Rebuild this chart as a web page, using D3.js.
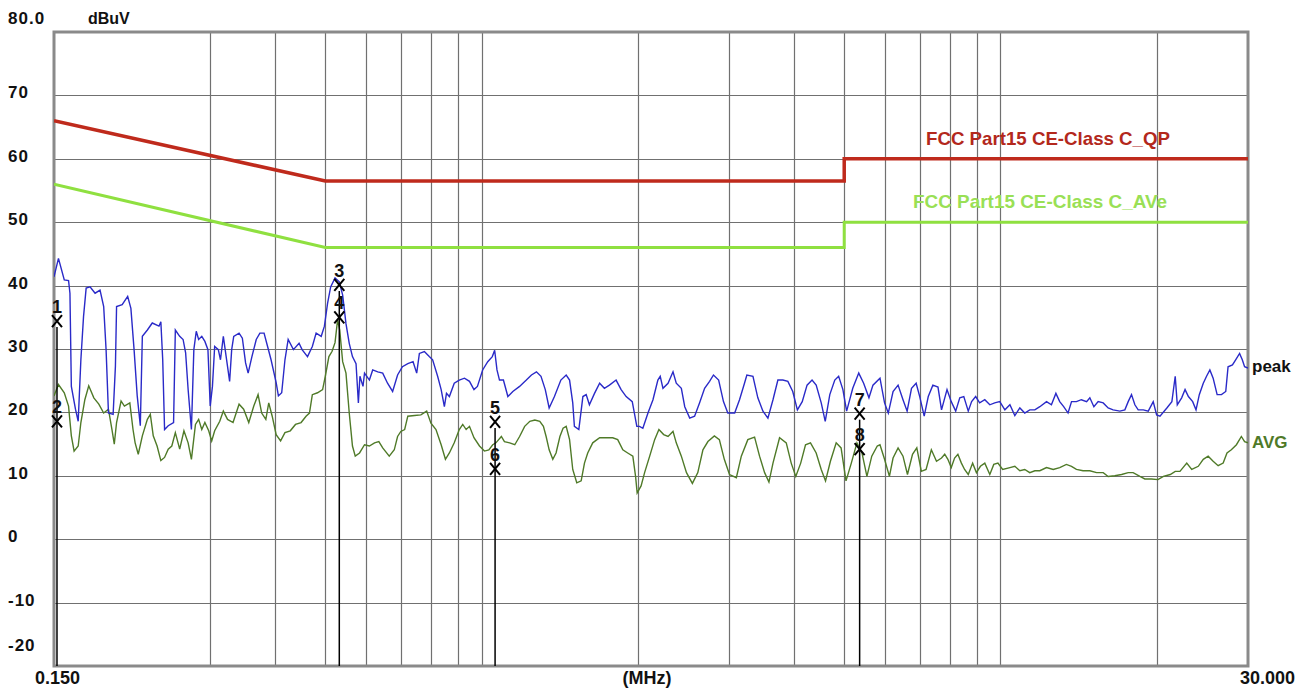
<!DOCTYPE html>
<html><head><meta charset="utf-8">
<script src="https://cdn.jsdelivr.net/npm/d3@7"></script>
<style>
body{margin:0;background:#fff;}
text{font-family:"Liberation Sans",Arial,sans-serif;font-weight:bold;}
</style>
</head><body><svg id="c" width="1306" height="689"></svg>
<script>
// ---------- data ----------
const peakFreq=[0.150,0.153,0.157,0.160,0.161,0.162,0.165,0.167,0.169,0.171,0.173,0.176,0.180,0.184,0.187,0.189,0.191,0.195,0.197,0.198,
0.203,0.208,0.211,0.214,0.217,0.220,0.222,0.227,0.232,0.239,0.241,0.243,0.245,0.249,0.255,0.257,0.262,0.266,0.269,0.272,
0.276,0.279,0.282,0.285,0.289,0.293,0.297,0.300,0.303,0.306,0.311,0.314,0.318,0.322,0.327,0.330,0.333,0.341,0.346,0.351,
0.355,0.361,0.368,0.374,0.381,0.387,0.393,0.402,0.406,0.412,0.418,0.424,0.434,0.445,0.451,0.462,0.472,0.480,0.491,0.498,
0.505,0.512,0.522,0.532,0.540,0.548,0.556,0.564,0.573,0.579,0.583,0.591,0.595,0.608,0.617,0.631,0.645,0.659,0.674,0.689,
0.704,0.721,0.738,0.750,0.759,0.776,0.793,0.805,0.823,0.836,0.848,0.856,0.867,0.886,0.906,0.927,0.948,0.967,0.982,1.005,
1.028,1.049,1.060,1.071,1.083,1.102,1.124,1.149,1.184,1.220,1.248,1.276,1.302,1.327,1.350,1.382,1.422,1.456,1.478,1.499,
1.510,1.540,1.568,1.591,1.614,1.651,1.689,1.725,1.764,1.817,1.858,1.900,1.952,1.992,2.016,2.046,2.093,2.140,2.187,2.210,
2.237,2.288,2.339,2.373,2.427,2.464,2.519,2.574,2.631,2.691,2.751,2.799,2.864,2.926,2.983,3.075,3.142,3.212,3.246,3.335,
3.408,3.486,3.564,3.645,3.725,3.808,3.894,3.979,4.062,4.150,4.240,4.335,4.415,4.515,4.596,4.690,4.795,4.878,4.971,5.054,
5.193,5.333,5.45,5.58,5.68,5.86,5.98,6.08,6.21,6.35,6.49,6.61,6.74,6.88,6.99,7.13,7.26,7.41,7.58,7.70,
7.89,8.04,8.20,8.35,8.50,8.67,8.80,8.96,9.12,9.33,9.54,9.75,9.97,10.2,10.43,10.66,10.9,11.14,11.39,11.65,
11.91,12.27,12.54,12.79,13.01,13.24,13.50,13.71,14.01,14.32,14.66,14.87,15.14,15.43,15.78,16.13,16.49,16.99,17.37,17.63,
17.89,18.16,18.43,18.85,19.27,19.70,20.0,20.30,20.93,21.40,21.72,21.92,22.35,22.69,23.03,23.47,23.82,24.17,24.60,24.96,
25.33,25.70,26.16,26.67,27.18,27.46,28.0,28.4,28.9,29.25,29.55,30.0];
const peakLevel=[41.4,44.3,40.9,40.8,38.8,24.1,20.5,18.6,28.3,35.1,39.6,39.8,38.8,39.3,36.7,29.9,19.9,19.7,27.3,36.7,
37.0,38.3,36.4,29.9,22.6,17.9,32.0,33.0,34.1,33.6,34.3,28.3,17.3,17.9,18.4,33.0,32.0,31.5,29.4,23.6,
17.3,29.9,32.8,31.5,32.0,31.2,29.9,21.0,24.1,30.4,29.9,28.3,32.0,28.8,24.9,29.9,32.0,32.5,31.7,27.8,
26.2,28.8,31.5,32.5,32.5,30.4,28.3,24.7,22.6,23.1,28.3,31.5,29.9,30.9,29.9,28.8,30.4,32.5,32.0,33.6,
37.2,39.8,41.2,40.6,38.5,34.0,30.9,28.8,27.7,21.5,25.7,24.1,26.2,25.1,26.7,26.4,26.2,24.6,23.3,25.9,
27.2,27.7,28.0,26.2,29.3,29.6,28.8,28.3,25.7,23.6,20.9,23.0,22.5,24.6,25.1,25.4,24.9,23.6,24.1,26.7,
28.0,28.8,29.8,26.7,25.1,25.1,22.5,23.3,24.1,25.1,25.9,26.4,25.7,23.6,20.7,22.5,25.1,25.9,25.1,21.5,
17.8,17.3,22.5,22.8,21.2,23.0,24.6,23.8,24.3,25.1,23.6,22.5,21.7,17.8,17.8,17.5,19.9,22.0,25.1,25.7,
23.8,24.6,26.4,24.6,23.8,20.9,19.1,19.4,21.5,23.8,24.9,25.9,25.1,21.7,19.9,19.9,22.0,24.6,25.9,25.7,
22.3,20.2,19.1,22.0,25.1,25.1,24.9,23.3,20.4,21.7,24.3,25.1,24.3,21.5,18.6,22.8,25.1,25.7,23.6,20.2,
23.8,26.2,24.6,22.3,24.3,25.4,21.5,19.9,23.3,24.3,22.0,20.2,23.8,24.6,22.5,19.4,22.5,24.3,24.0,20.4,
23.6,21.7,20.2,22.3,22.5,20.2,21.7,22.5,21.5,22.0,21.2,21.5,21.7,20.4,21.2,19.5,20.7,19.9,20.4,20.4,
20.9,21.7,21.2,23.0,21.7,20.9,19.9,21.7,21.7,22.0,21.7,22.3,20.9,21.7,21.5,20.7,20.4,20.2,20.4,21.7,
22.8,21.2,20.4,20.4,20.2,21.7,19.6,19.4,20.7,21.7,25.7,21.2,22.3,23.6,22.5,21.7,20.4,22.8,24.6,25.7,
26.7,25.4,22.8,22.8,23.3,27.2,27.5,28.3,29.3,28.3,27.2,27.0];

const avgFreq=[0.150,0.153,0.157,0.160,0.162,0.164,0.167,0.169,0.172,0.175,0.179,0.183,0.187,0.191,0.194,0.196,0.198,0.202,0.205,0.210,
0.213,0.215,0.218,0.222,0.227,0.230,0.233,0.237,0.241,0.245,0.249,0.253,0.257,0.262,0.267,0.272,0.276,0.281,0.285,0.289,
0.293,0.298,0.302,0.306,0.313,0.318,0.324,0.332,0.341,0.348,0.356,0.364,0.371,0.377,0.384,0.389,0.395,0.402,0.410,0.418,
0.428,0.438,0.449,0.459,0.466,0.472,0.483,0.494,0.500,0.508,0.515,0.522,0.528,0.533,0.540,0.548,0.556,0.564,0.571,0.582,
0.595,0.608,0.622,0.634,0.645,0.664,0.679,0.689,0.699,0.711,0.721,0.743,0.764,0.784,0.799,0.817,0.836,0.852,0.867,0.886,
0.906,0.920,0.934,0.948,0.967,0.991,1.013,1.033,1.051,1.066,1.092,1.107,1.133,1.159,1.184,1.211,1.239,1.267,1.295,1.316,
1.332,1.350,1.372,1.392,1.416,1.436,1.456,1.478,1.499,1.526,1.556,1.579,1.602,1.638,1.689,1.738,1.790,1.830,1.872,1.913,
1.957,1.981,1.995,2.030,2.062,2.109,2.156,2.197,2.244,2.288,2.339,2.373,2.427,2.483,2.549,2.611,2.671,2.731,2.81,2.873,
2.937,3.005,3.098,3.167,3.260,3.359,3.434,3.512,3.580,3.645,3.753,3.866,3.952,4.033,4.122,4.211,4.305,4.415,4.515,4.602,
4.703,4.825,4.931,5.04,5.16,5.29,5.41,5.53,5.65,5.79,5.86,5.98,6.11,6.21,6.35,6.49,6.62,6.77,6.90,7.04,
7.19,7.36,7.53,7.70,7.81,7.92,8.04,8.16,8.28,8.41,8.53,8.67,8.84,8.99,9.15,9.33,9.54,9.71,9.89,10.1,
10.43,10.66,10.9,11.14,11.39,11.65,11.91,12.27,12.64,13.01,13.40,13.71,14.01,14.43,14.87,15.32,15.78,16.13,16.61,17.12,
17.63,18.02,18.57,18.98,19.55,20.12,20.61,21.25,21.72,22.18,22.86,23.37,24.06,24.60,25.14,25.70,26.28,26.87,27.33,27.86,
28.5,29.13,29.55,30.0];
const avgLevel=[22.6,24.4,23.1,21.0,16.3,13.9,14.7,18.4,22.0,24.2,22.3,21.3,19.9,20.5,17.3,15.0,18.4,21.8,21.0,21.5,
17.3,15.2,13.4,16.3,18.9,19.7,16.3,14.7,12.4,12.9,14.2,14.7,16.8,14.2,17.1,15.2,12.6,18.1,18.9,17.3,
18.4,17.1,15.5,17.1,18.6,20.2,18.9,18.4,21.3,20.5,18.4,21.0,22.8,19.9,18.9,21.5,19.4,16.5,15.5,16.8,
17.1,18.1,18.4,19.4,19.9,22.8,23.1,23.6,25.7,28.8,29.6,31.0,34.6,33.0,28.0,26.2,19.9,14.7,13.1,13.6,
14.9,14.7,15.2,15.4,14.4,13.1,14.1,16.2,17.0,17.3,19.4,19.5,19.6,20.2,18.3,17.3,14.9,12.6,13.6,15.2,
17.3,18.1,17.3,17.8,16.0,14.7,13.9,14.1,14.9,15.2,16.2,15.4,15.2,14.9,16.2,17.8,18.6,18.8,18.6,17.8,
16.2,14.1,12.6,13.6,16.2,17.5,17.8,15.7,11.0,8.9,9.2,12.0,13.6,15.2,16.0,16.0,16.0,15.7,14.1,13.6,
13.1,9.9,7.3,8.4,10.5,13.1,15.7,17.3,16.5,16.2,17.0,15.2,13.1,10.5,8.8,10.5,14.1,15.4,16.3,15.7,
12.6,10.2,9.7,13.1,15.7,16.1,13.1,10.5,9.0,12.0,16.0,15.2,12.0,9.9,12.0,14.9,15.2,13.6,11.0,9.2,
12.3,15.2,14.4,9.2,12.0,15.2,13.6,9.9,13.1,14.7,14.9,12.6,9.9,12.8,14.4,13.1,10.2,13.4,14.4,10.7,
11.0,14.1,12.3,12.8,13.4,12.6,11.3,12.8,13.4,12.0,11.0,10.2,12.0,10.5,11.5,12.0,10.2,11.8,12.0,11.0,
11.3,11.5,10.8,11.0,10.5,10.8,10.8,11.3,11.0,11.3,11.8,11.5,11.0,10.8,10.8,10.5,10.5,9.9,10.0,10.2,
10.5,10.5,9.9,9.5,9.5,9.4,9.9,10.2,10.7,10.7,12.0,11.0,11.5,12.6,13.1,12.3,11.6,12.0,13.6,14.1,
14.9,16.2,15.4,15.2];

const qpFreq=[0.15,0.5,5,5,30];
const qpLevel=[66,56.5,56.5,60,60];
const avFreq=[0.15,0.5,5,5,30];
const avLevel=[56,46,46,50,50];

const markerIds=["1","2","3","4","5","6","7","8"];
const markerFreq=[0.152,0.152,0.532,0.532,1.062,1.062,5.354,5.354];
const markerLevel=[34.4,18.6,40.1,35.0,18.5,11.1,19.8,14.2];

const gridFreqs=[0.3,0.4,0.5,0.6,0.7,0.8,0.9,1,2,3,4,5,6,7,8,9,10,20];
const yTicks=[80,70,60,50,40,30,20,10,0,-10,-20];
const yTickLabels=["80.0","70","60","50","40","30","20","10","0","-10","-20"];
const xLabels=["0.150","(MHz)","30.000"];
const qpName="FCC Part15 CE-Class C_QP";
const avName="FCC Part15 CE-Class C_AVe";
const traceNames=["peak","AVG"];

// ---------- drawing ----------
const svg=d3.select("#c");
svg.append("rect").attr("width",1306).attr("height",689).attr("fill","#fff");
const X0=54,X1=1248,Y0=32,Y1=666;
const x=d3.scaleLog().domain([0.15,30]).range([X0,X1]);
const y=d3.scaleLinear().domain([-20,80]).range([Y1,Y0]);

const defs=svg.append("defs");
defs.append("clipPath").attr("id","clip").append("rect")
  .attr("x",X0).attr("y",Y0).attr("width",X1-X0).attr("height",Y1-Y0);

// grid
const grid=svg.append("g").attr("stroke","#707070").attr("stroke-width",1.2);
grid.selectAll("line.v").data(gridFreqs).join("line")
  .attr("x1",d=>Math.round(x(d))+0.5).attr("x2",d=>Math.round(x(d))+0.5)
  .attr("y1",Y0).attr("y2",Y1);
grid.selectAll("line.h").data(yTicks.filter(v=>v<80&&v>-20)).join("line")
  .attr("class","h")
  .attr("x1",X0).attr("x2",X1)
  .attr("y1",d=>Math.round(y(d))+0.5).attr("y2",d=>Math.round(y(d))+0.5);

// frame
svg.append("rect").attr("x",X0).attr("y",Y0).attr("width",X1-X0).attr("height",Y1-Y0)
  .attr("fill","none").attr("stroke","#8a8a8a").attr("stroke-width",3);

// y tick labels
svg.append("g").selectAll("text").data(yTicks).join("text")
  .attr("x",8)
  .attr("y",(d,i)=> d===80 ? 24 : d===-20 ? 651 : y(d)+3)
  .attr("font-size",17).attr("letter-spacing",1).attr("fill","#111")
  .text((d,i)=>yTickLabels[i]);
svg.append("text").attr("x",88).attr("y",24).attr("font-size",16).attr("fill","#111").text("dBuV");

// x labels
svg.append("text").attr("x",35).attr("y",684).attr("font-size",18).attr("fill","#111").text(xLabels[0]);
svg.append("text").attr("x",647).attr("y",684).attr("font-size",18).attr("text-anchor","middle").attr("fill","#111").text(xLabels[1]);
svg.append("text").attr("x",1295).attr("y",684).attr("font-size",18).attr("text-anchor","end").attr("fill","#111").text(xLabels[2]);

const plot=svg.append("g").attr("clip-path","url(#clip)");
const line=d3.line().x(d=>x(d[0])).y(d=>y(d[1]));

// limit lines
plot.append("path").datum(d3.zip(qpFreq,qpLevel)).attr("d",line)
  .attr("fill","none").attr("stroke","#bf2a1c").attr("stroke-width",3.5);
plot.append("path").datum(d3.zip(avFreq,avLevel)).attr("d",line)
  .attr("fill","none").attr("stroke","#8fe040").attr("stroke-width",3);

svg.append("text").attr("x",926).attr("y",145).attr("font-size",19)
  .attr("textLength",244).attr("lengthAdjust","spacingAndGlyphs")
  .attr("fill","#b3281c").text(qpName);
svg.append("text").attr("x",913).attr("y",208).attr("font-size",19)
  .attr("textLength",254).attr("lengthAdjust","spacingAndGlyphs")
  .attr("fill","#99e055").text(avName);

// traces
plot.append("path").datum(d3.zip(avgFreq,avgLevel)).attr("d",line)
  .attr("fill","none").attr("stroke","#4f7a28").attr("stroke-width",1.4);
plot.append("path").datum(d3.zip(peakFreq,peakLevel)).attr("d",line)
  .attr("fill","none").attr("stroke","#2a2ac8").attr("stroke-width",1.4);

svg.append("text").attr("x",1252).attr("y",372).attr("font-size",17).attr("fill","#111").text(traceNames[0]);
svg.append("text").attr("x",1252).attr("y",448).attr("font-size",17).attr("fill","#4f7a28").text(traceNames[1]);

// markers
const mk=svg.append("g");
const pairs=[0,2,4,6];
mk.selectAll("line.stem").data(pairs).join("line")
  .attr("x1",i=>x(markerFreq[i])).attr("x2",i=>x(markerFreq[i]))
  .attr("y1",i=>y(markerLevel[i])+6).attr("y2",Y1)
  .attr("stroke","#000").attr("stroke-width",1.5);
const mg=mk.selectAll("g.m").data(markerIds.map((id,i)=>i)).join("g")
  .attr("transform",i=>`translate(${x(markerFreq[i])},${y(markerLevel[i])})`);
mg.append("path").attr("d","M-5,-6L5,6M-5,6L5,-6").attr("stroke","#000").attr("stroke-width",2).attr("fill","none");
mg.append("text").attr("y",-8).attr("text-anchor","middle").attr("font-size",18).attr("fill","#111")
  .text(i=>markerIds[i]);
</script>
</body></html>
